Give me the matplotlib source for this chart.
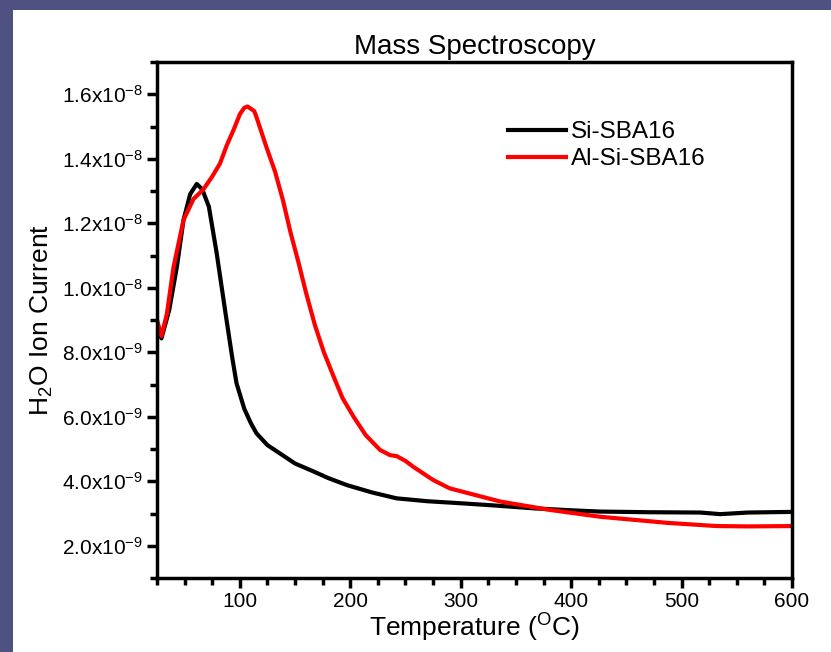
import numpy as np
import matplotlib.pyplot as plt
import matplotlib.ticker as ticker
from matplotlib.patches import Rectangle

plt.rcParams['font.family'] = ['Liberation Sans', 'DejaVu Sans']
plt.rcParams['mathtext.fontset'] = 'custom'
plt.rcParams['mathtext.rm'] = 'Liberation Sans'
plt.rcParams['mathtext.it'] = 'Liberation Sans'

# temperature (C) and H2O ion current (A)
t_si = [25, 29, 36, 43, 49, 55, 61, 66, 72, 79, 87, 93, 97, 104, 110, 115, 125,
        136, 150, 167, 180, 197, 220, 242, 270, 299, 330, 366, 400, 426, 470,
        517, 535, 560, 600]
i_si = [8.90, 8.43, 9.3, 10.65, 12.10, 12.9, 13.22, 13.05, 12.51, 11.08, 9.22,
        7.86, 7.04, 6.25, 5.80, 5.49, 5.12, 4.87, 4.55, 4.30, 4.10, 3.88, 3.65,
        3.47, 3.38, 3.32, 3.25, 3.16, 3.10, 3.06, 3.04, 3.03, 2.98, 3.03, 3.05]
t_al = [25, 29, 34, 40, 49, 58, 67, 75, 82, 88, 95, 100, 104, 107, 110, 113,
        115, 124, 132, 139, 146, 153, 160, 168, 176, 185, 193, 203, 214, 227,
        236, 242, 250, 257, 275, 290, 299, 336, 381, 426, 487, 532, 560, 600]
i_al = [9.0, 8.5, 9.2, 10.65, 12.1, 12.75, 13.05, 13.45, 13.85, 14.40, 14.95,
        15.38, 15.58, 15.62, 15.55, 15.48, 15.30, 14.37, 13.59, 12.72, 11.70,
        10.80, 9.84, 8.84, 8.01, 7.24, 6.58, 6.00, 5.43, 4.97, 4.81, 4.78,
        4.63, 4.45, 4.04, 3.78, 3.70, 3.37, 3.11, 2.90, 2.71, 2.61, 2.60, 2.61]

t_si = np.array(t_si)
i_si = np.array(i_si) * 1e-9
t_al = np.array(t_al)
i_al = np.array(i_al) * 1e-9

fig = plt.figure(figsize=(8.31, 6.52), dpi=100, facecolor='#4f5181')
fig.patches.append(Rectangle((13 / 831, 0), 1, (652 - 10) / 652,
                             transform=fig.transFigure, facecolor='white',
                             edgecolor='none', zorder=-10))
ax = fig.add_axes([157 / 831, 74 / 652, 635 / 831, 516 / 652])
ax.set_zorder(5)

ax.plot(t_si, i_si, color='black', lw=3, label='Si-SBA16')
ax.plot(t_al, i_al, color='#ff0000', lw=3, label='Al-Si-SBA16')

ax.set_xlim(25, 600)
ax.set_ylim(1e-9, 1.7e-8)
ax.xaxis.set_major_locator(ticker.MultipleLocator(100))
ax.xaxis.set_minor_locator(ticker.MultipleLocator(25))
ax.yaxis.set_major_locator(ticker.MultipleLocator(2e-9))
ax.yaxis.set_minor_locator(ticker.MultipleLocator(1e-9))


def sci(v, pos):
    if v <= 0:
        return ''
    e = int(np.floor(np.log10(v) + 1e-9))
    m = v / 10 ** e
    return r'%.1fx10$^{%d}$' % (m, e)


ax.yaxis.set_major_formatter(ticker.FuncFormatter(sci))

for s in ax.spines.values():
    s.set_linewidth(2.5)
ax.tick_params(which='major', length=7, width=2.5, labelsize=15, pad=3)
ax.tick_params(which='minor', length=5, width=2.5)

ax.set_title('Mass Spectroscopy', fontsize=20, pad=6)
ax.set_xlabel(r'Temperature ($^{\mathrm{O}}$C)', fontsize=19, labelpad=1)
ax.set_ylabel(r'H$_2$O Ion Current', fontsize=19, labelpad=5)

ax.legend(loc='upper left', bbox_to_anchor=(0.553, 0.885), frameon=False,
          borderaxespad=0, borderpad=0, fontsize=17.5, handlelength=2.4,
          handletextpad=0.2, labelspacing=0.2)

fig.savefig('out.png', dpi=100, facecolor=fig.get_facecolor())
